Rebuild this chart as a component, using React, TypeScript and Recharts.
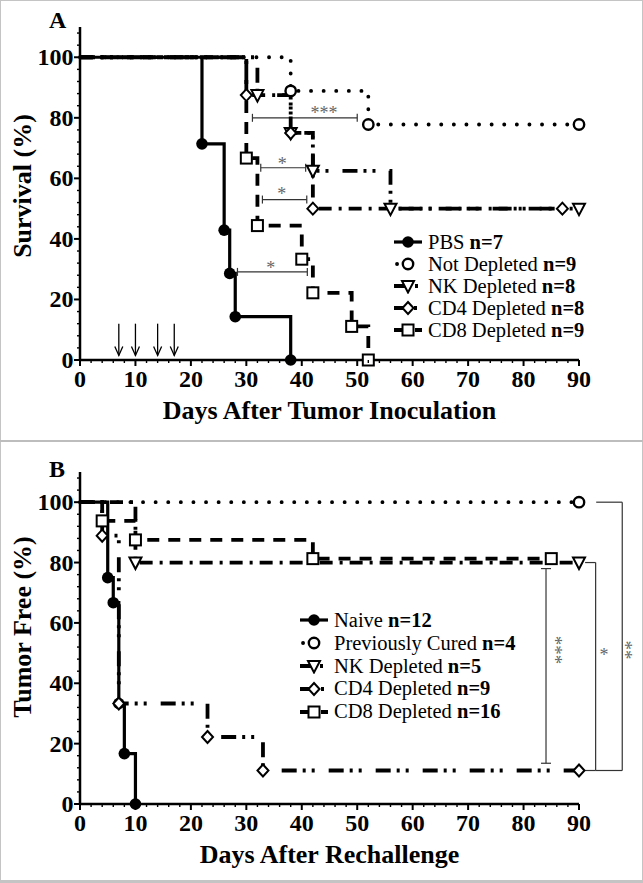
import React from "react";
import {
  LineChart,
  Line,
  XAxis,
  YAxis,
  ReferenceLine,
  ReferenceDot,
  Legend,
  Label,
} from "recharts";

const FONT = "'Liberation Serif', 'Times New Roman', serif";

// ---- Panel A: survival after tumor inoculation ----
const pbsDays = [0, 22, 26, 27, 28, 38];
const pbsSurv = [100, 71.4, 42.9, 28.6, 14.3, 0];
const notDepDays = [0, 38, 52, 90];
const notDepSurv = [100, 88.9, 77.8, 77.8];
const nkDaysA = [0, 32, 38, 42, 56, 90];
const nkSurvA = [100, 87.5, 75, 62.5, 50, 50];
const cd4DaysA = [0, 30, 38, 42, 87];
const cd4SurvA = [100, 87.5, 75, 50, 50];
const cd8DaysA = [0, 30, 32, 40, 42, 49, 52];
const cd8SurvA = [100, 66.7, 44.4, 33.3, 22.2, 11.1, 0];

// antibody injections (arrows)
const injectionDays = [7, 10, 14, 17];
const arrowTop = 12;
const arrowTip = 1.5;

// significance brackets, panel A
const sigAFrom = [31.1, 32.6, 32.9, 28.4];
const sigATo = [50, 40.7, 40.9, 41];
const sigALevel = [80, 63.5, 53, 29.1];
const sigAStars = ["***", "*", "*", "*"];
const sigAStarX = [44, 36.5, 36.4, 34.4];
const sigAStarY = [82.5, 65.5, 55.5, 31.3];

// ---- Panel B: tumor free after rechallenge ----
const naiveDays = [0, 5, 6, 7, 8, 10];
const naiveFree = [100, 75, 66.7, 33.3, 16.7, 0];
const curedDays = [0, 90];
const curedFree = [100, 100];
const nkDaysB = [0, 10, 90];
const nkFreeB = [100, 80, 80];
const cd4DaysB = [0, 4, 7, 23, 33, 90];
const cd4FreeB = [100, 88.9, 33.3, 22.2, 11.1, 11.1];
const cd8DaysB = [0, 4, 10, 42, 85];
const cd8FreeB = [100, 93.8, 87.5, 81.3, 81.3];

// ticks
const xMajor = [0, 10, 20, 30, 40, 50, 60, 70, 80, 90];
const yMajor = [0, 20, 40, 60, 80, 100];
const xMinorStep = 2;
const yMinorStep = 4;

const xTicks: number[] = [];
for (let v = 0; v <= 90; v += xMinorStep) xTicks.push(v);
const yTicks: number[] = [];
for (let v = 0; v <= 108; v += yMinorStep) yTicks.push(v);
yMajor.forEach((v) => { if (!yTicks.includes(v)) yTicks.push(v); });
yTicks.sort((a, b) => a - b);

type Kind = "dot" | "circle" | "tri" | "diamond" | "square";
type Pattern = "solid" | "dotted" | "dashDot" | "dashDotDot" | "dashed";

const PATTERNS: Record<Pattern, { dash?: string; width: number; cap: "butt" | "round" }> = {
  solid: { dash: undefined, width: 3.2, cap: "butt" },
  dotted: { dash: "0.1 12.5", width: 3.8, cap: "round" },
  dashDot: { dash: "13 7 3 7", width: 3.8, cap: "butt" },
  dashDotDot: { dash: "15 6 3 6 3 14", width: 3.8, cap: "butt" },
  dashed: { dash: "12 9", width: 3.8, cap: "butt" },
};

interface Series {
  name: string;
  n: number;
  days: number[];
  vals: number[];
  kind: Kind;
  pattern: Pattern;
}

const seriesA: Series[] = [
  { name: "PBS", n: 7, days: pbsDays, vals: pbsSurv, kind: "dot", pattern: "solid" },
  { name: "Not Depleted", n: 9, days: notDepDays, vals: notDepSurv, kind: "circle", pattern: "dotted" },
  { name: "NK Depleted", n: 8, days: nkDaysA, vals: nkSurvA, kind: "tri", pattern: "dashDotDot" },
  { name: "CD4 Depleted", n: 8, days: cd4DaysA, vals: cd4SurvA, kind: "diamond", pattern: "dashDot" },
  { name: "CD8 Depleted", n: 9, days: cd8DaysA, vals: cd8SurvA, kind: "square", pattern: "dashed" },
];

const seriesB: Series[] = [
  { name: "Naive", n: 12, days: naiveDays, vals: naiveFree, kind: "dot", pattern: "solid" },
  { name: "Previously Cured", n: 4, days: curedDays, vals: curedFree, kind: "circle", pattern: "dotted" },
  { name: "NK Depleted", n: 5, days: nkDaysB, vals: nkFreeB, kind: "tri", pattern: "dashDot" },
  { name: "CD4 Depleted", n: 9, days: cd4DaysB, vals: cd4FreeB, kind: "diamond", pattern: "dashDotDot" },
  { name: "CD8 Depleted", n: 16, days: cd8DaysB, vals: cd8FreeB, kind: "square", pattern: "dashed" },
];

function Marker({ kind, cx, cy }: { kind: Kind; cx: number; cy: number }) {
  const s = { stroke: "#000", strokeWidth: 2, fill: "#fff" };
  switch (kind) {
    case "dot":
      return <circle cx={cx} cy={cy} r={5.8} fill="#000" />;
    case "circle":
      return <circle cx={cx} cy={cy} r={5.2} {...s} strokeWidth={2.4} />;
    case "tri":
      return <polygon points={`${cx - 6},${cy - 5} ${cx + 6},${cy - 5} ${cx},${cy + 6.5}`} {...s} />;
    case "diamond":
      return <polygon points={`${cx},${cy - 6} ${cx + 5.5},${cy} ${cx},${cy + 6} ${cx - 5.5},${cy}`} {...s} />;
    default:
      return <rect x={cx - 5.5} y={cy - 5.5} width={11} height={11} {...s} />;
  }
}

const XTick = (p: any) => {
  const { x, y, payload } = p;
  const major = xMajor.includes(payload.value);
  return (
    <g>
      <line x1={x} x2={x} y1={y} y2={y + (major ? 6 : 3)} stroke="#000" strokeWidth={major ? 2 : 1.4} />
      {major && (
        <text x={x} y={y + 27} textAnchor="middle" fontFamily={FONT} fontWeight="bold" fontSize={24} fill="#000">
          {payload.value}
        </text>
      )}
    </g>
  );
};

const YTick = (p: any) => {
  const { x, y, payload } = p;
  const major = yMajor.includes(payload.value);
  return (
    <g>
      <line x1={x - (major ? 6 : 3)} x2={x} y1={y} y2={y} stroke="#000" strokeWidth={major ? 2 : 1.4} />
      {major && (
        <text x={x - 6.5} y={y + 8} textAnchor="end" fontFamily={FONT} fontWeight="bold" fontSize={24} fill="#000">
          {payload.value}
        </text>
      )}
    </g>
  );
};

const arrowShape = (p: any) => {
  const { x1, y1, x2, y2 } = p;
  return (
    <g stroke="#000" strokeWidth={1.3} fill="none">
      <line x1={x1} y1={y1} x2={x2} y2={y2} />
      <path d={`M${x2 - 4},${y2 - 9} L${x2},${y2} L${x2 + 4},${y2 - 9}`} />
    </g>
  );
};

const capShape = (p: any) => {
  const { x1, y1, x2, y2 } = p;
  const horiz = Math.abs(x2 - x1) > Math.abs(y2 - y1);
  const c = horiz ? 4 : 5;
  return (
    <g stroke="#333" strokeWidth={1.2}>
      <line x1={x1} y1={y1} x2={x2} y2={y2} />
      {horiz ? (
        <>
          <line x1={x1} y1={y1 - c} x2={x1} y2={y1 + c} />
          <line x1={x2} y1={y2 - c} x2={x2} y2={y2 + c} />
        </>
      ) : (
        <>
          <line x1={x1 - c} y1={y1} x2={x1 + c} y2={y1} />
          <line x1={x2 - c} y1={y2} x2={x2 + c} y2={y2} />
        </>
      )}
    </g>
  );
};

const plainShape = (p: any) => (
  <line x1={p.x1} y1={p.y1} x2={p.x2} y2={p.y2} stroke="#333" strokeWidth={1.2} />
);

const starShape = (stars: string) => (p: any) => (
  <text x={p.cx} y={p.cy + 8.5} textAnchor="middle" fontFamily={FONT} fontSize={18} fill="#666">
    {stars}
  </text>
);

// stars stacked vertically: one rotated text
const stackShape = (stars: string) => (p: any) => (
  <text
    transform={`translate(${p.cx - 8}, ${p.cy}) rotate(90)`}
    textAnchor="middle"
    fontFamily={FONT}
    fontSize={19}
    fill="#666"
  >
    {stars}
  </text>
);

function LegendBox({ items, rowH }: { items: Series[]; rowH: number }) {
  return (
    <div style={{ fontFamily: FONT, fontSize: 20.5, color: "#000" }}>
      {items.map((s) => {
        const st = PATTERNS[s.pattern];
        const dotted = s.pattern === "dotted";
        return (
          <div key={s.name} style={{ display: "flex", alignItems: "center", height: rowH, whiteSpace: "nowrap" }}>
            <svg width={30} height={16} style={{ flex: "none", marginRight: 5 }}>
              <line
                x1={dotted ? 4 : 1}
                y1={8}
                x2={dotted ? 26 : 29}
                y2={8}
                stroke="#000"
                strokeWidth={st.width}
                strokeDasharray={dotted ? "0.1 11" : st.dash}
                strokeLinecap={st.cap}
              />
              <Marker kind={s.kind} cx={15} cy={8} />
            </svg>
            <span>
              {s.name} <b>n={s.n}</b>
            </span>
          </div>
        );
      })}
    </div>
  );
}

interface PanelProps {
  height: number;
  top: number;
  xAxisH: number;
  letter: string;
  letterY: number;
  yTitle: string;
  xTitle: string;
  series: Series[];
  legendLeft: number;
  legendTop: number;
  legendRow: number;
  extras: React.ReactNode[];
}

function Panel(props: PanelProps) {
  const { height, top, xAxisH, letter, letterY, yTitle, xTitle, series, legendLeft, legendTop, legendRow, extras } = props;
  const plotBottom = height - xAxisH;
  return (
    <LineChart width={643} height={height} margin={{ top, right: 64, bottom: 0, left: 0 }}>
      <XAxis
        dataKey="day"
        type="number"
        domain={[0, 90]}
        ticks={xTicks}
        interval={0}
        height={xAxisH}
        tickSize={0}
        tickMargin={0}
        tickLine={false}
        tick={(p: any) => <XTick {...p} />}
        axisLine={{ stroke: "#000", strokeWidth: 2.5 }}
      >
        <Label
          content={() => (
            <text x={329.5} y={plotBottom + 59} textAnchor="middle" fontFamily={FONT} fontWeight="bold" fontSize={26} fill="#000">
              {xTitle}
            </text>
          )}
        />
      </XAxis>
      <YAxis
        type="number"
        domain={[0, 110]}
        ticks={yTicks}
        interval={0}
        width={80}
        tickSize={0}
        tickMargin={0}
        tickLine={false}
        tick={(p: any) => <YTick {...p} />}
        axisLine={{ stroke: "#000", strokeWidth: 2.5 }}
      >
        <Label
          content={() => (
            <g>
              <text
                transform={`translate(31, 186) rotate(-90)`}
                textAnchor="middle"
                fontFamily={FONT}
                fontWeight="bold"
                fontSize={26}
                fill="#000"
              >
                {yTitle}
              </text>
              <text x={49} y={letterY} fontFamily={FONT} fontWeight="bold" fontSize={24} fill="#000">
                {letter}
              </text>
            </g>
          )}
        />
      </YAxis>
      {extras}
      {series.map((s) => {
        const st = PATTERNS[s.pattern];
        const data = s.days.map((d, i) => ({ day: d, v: s.vals[i] }));
        return (
          <Line
            key={s.name}
            name={s.name}
            data={data}
            dataKey="v"
            type="stepAfter"
            stroke="#000"
            strokeWidth={st.width}
            strokeDasharray={st.dash}
            strokeLinecap={st.cap}
            isAnimationActive={false}
            activeDot={false}
            dot={(p: any) =>
              p.index === 0 ? (
                <g key={`${s.name}-${p.index}`} />
              ) : (
                <g key={`${s.name}-${p.index}`}>
                  <Marker kind={s.kind} cx={p.cx} cy={p.cy} />
                </g>
              )
            }
          />
        );
      })}
      <Legend
        layout="vertical"
        align="center"
        verticalAlign="middle"
        wrapperStyle={{ position: "absolute", left: legendLeft, top: legendTop, width: 240 }}
        content={() => <LegendBox items={series} rowH={legendRow} />}
      />
    </LineChart>
  );
}

export default function App() {
  const extrasA: React.ReactNode[] = [
    ...injectionDays.map((d) => (
      <ReferenceLine
        key={`arrow-${d}`}
        segment={[{ x: d, y: arrowTop }, { x: d, y: arrowTip }]}
        ifOverflow="visible"
        shape={arrowShape}
      />
    )),
    ...sigAFrom.map((f, i) => (
      <ReferenceLine
        key={`sig-${i}`}
        segment={[{ x: f, y: sigALevel[i] }, { x: sigATo[i], y: sigALevel[i] }]}
        ifOverflow="visible"
        shape={capShape}
      />
    )),
    ...sigAStars.map((s, i) => (
      <ReferenceDot key={`star-${i}`} x={sigAStarX[i]} y={sigAStarY[i]} r={0} ifOverflow="visible" shape={starShape(s)} />
    )),
  ];

  const extrasB: React.ReactNode[] = [
    <ReferenceLine key="b1" segment={[{ x: 84.05, y: 78 }, { x: 84.05, y: 13.5 }]} ifOverflow="visible" shape={capShape} />,
    <ReferenceLine key="b2a" segment={[{ x: 91.1, y: 80 }, { x: 93, y: 80 }]} ifOverflow="visible" shape={plainShape} />,
    <ReferenceLine key="b2b" segment={[{ x: 93, y: 80 }, { x: 93, y: 11.1 }]} ifOverflow="visible" shape={plainShape} />,
    <ReferenceLine key="b2c" segment={[{ x: 91.1, y: 11.1 }, { x: 93, y: 11.1 }]} ifOverflow="visible" shape={plainShape} />,
    <ReferenceLine key="b3a" segment={[{ x: 93.1, y: 100 }, { x: 97.8, y: 100 }]} ifOverflow="visible" shape={plainShape} />,
    <ReferenceLine key="b3b" segment={[{ x: 97.8, y: 100 }, { x: 97.8, y: 11.1 }]} ifOverflow="visible" shape={plainShape} />,
    <ReferenceLine key="b3c" segment={[{ x: 93, y: 11.1 }, { x: 97.8, y: 11.1 }]} ifOverflow="visible" shape={plainShape} />,
    <ReferenceDot key="s1" x={86} y={51} r={0} ifOverflow="visible" shape={stackShape("***")} />,
    <ReferenceDot key="s2" x={94.5} y={50.3} r={0} ifOverflow="visible" shape={starShape("*")} />,
    <ReferenceDot key="s3" x={98.7} y={51} r={0} ifOverflow="visible" shape={stackShape("**")} />,
  ];

  return (
    <div style={{ position: "absolute", left: 0, top: 0, width: 643, height: 883, background: "#fff" }}>
      <div style={{ position: "absolute", left: 0, top: 0 }}>
        <Panel
          height={441}
          top={27}
          xAxisH={81}
          letter="A"
          letterY={28}
          yTitle="Survival (%)"
          xTitle="Days After Tumor Inoculation"
          series={seriesA}
          legendLeft={393}
          legendTop={231}
          legendRow={22}
          extras={extrasA}
        />
      </div>
      <div style={{ position: "absolute", left: 0, top: 441 }}>
        <Panel
          height={442}
          top={31}
          xAxisH={79}
          letter="B"
          letterY={36}
          yTitle="Tumor Free (%)"
          xTitle="Days After Rechallenge"
          series={seriesB}
          legendLeft={299}
          legendTop={168}
          legendRow={22.8}
          extras={extrasB}
        />
      </div>
      <div
        style={{
          position: "absolute",
          left: 0,
          top: 0,
          width: 643,
          height: 883,
          boxSizing: "border-box",
          borderStyle: "solid",
          borderColor: "#c4c4c4",
          borderWidth: "1px 1px 3px 1px",
          pointerEvents: "none",
        }}
      />
      <div style={{ position: "absolute", left: 0, top: 440, width: 643, height: 1.5, background: "#bdbdbd" }} />
    </div>
  );
}
